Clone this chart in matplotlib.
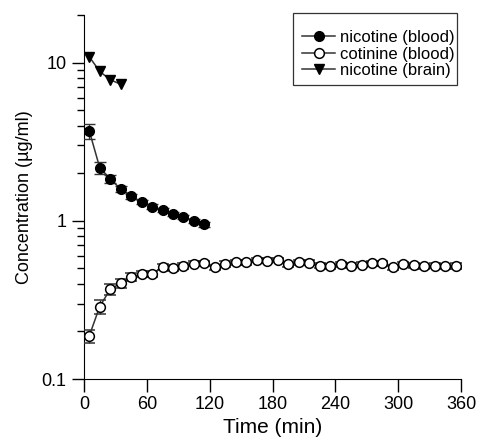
import numpy as np
import matplotlib
matplotlib.use('Agg')
import matplotlib.pyplot as plt
import matplotlib.patches as patches

plt.rcParams['font.family'] = ['Liberation Sans', 'DejaVu Sans']

# nicotine in blood
t_nic = [5, 15, 25, 35, 45, 55, 65, 75, 85, 95, 105, 115]
nic_blood = [3.71, 2.17, 1.84, 1.59, 1.43, 1.32, 1.23, 1.17, 1.11, 1.06, 1.0, 0.95]
nic_blood_err = [0.4, 0.18, 0.1, 0.07, 0.05, 0.04, 0.04, 0.03, 0.03, 0.03, 0.03, 0.03]

# cotinine in blood
t_cot = [5, 15, 25, 35, 45, 55, 65, 75, 85, 95, 105, 115, 125, 135, 145, 155, 165, 175,
         185, 195, 205, 215, 225, 235, 245, 255, 265, 275, 285, 295, 305, 315, 325, 335,
         345, 355]
cot_blood = [0.187, 0.287, 0.369, 0.403, 0.44, 0.462, 0.462, 0.512, 0.504, 0.519, 0.537,
             0.539, 0.508, 0.534, 0.547, 0.547, 0.566, 0.561, 0.566, 0.531, 0.547, 0.542,
             0.521, 0.516, 0.531, 0.521, 0.529, 0.539, 0.539, 0.508, 0.531, 0.524, 0.516,
             0.521, 0.516, 0.519]
cot_blood_err = [0.017, 0.03, 0.03, 0.025, 0.025, 0.02, 0.02, 0.02, 0.02, 0.02, 0.02,
                 0.02, 0.02, 0.02, 0.02, 0.02, 0.02, 0.02, 0.02, 0.02, 0.02, 0.02,
                 0.02, 0.02, 0.02, 0.02, 0.02, 0.02, 0.02, 0.02, 0.02, 0.02, 0.02,
                 0.02, 0.02, 0.02]

# nicotine in brain
t_brain = [5, 15, 25, 35]
nic_brain = [10.9, 8.8, 7.8, 7.3]

W, H = 478, 448
fig = plt.figure(figsize=(W / 100, H / 100), dpi=100)
ax = fig.add_axes([84 / W, 1 - 379 / H, 377 / W, 364 / H])

line_col = '#333333'
e1 = ax.errorbar(t_nic, nic_blood, yerr=nic_blood_err, fmt='-o', color=line_col,
                 mfc='black', mec='black', ms=7, lw=1.1, capsize=4.5, elinewidth=1,
                 zorder=3)
e2 = ax.errorbar(t_cot, cot_blood, yerr=cot_blood_err, fmt='-o', color=line_col,
                 mfc='white', mec='black', mew=1.1, ms=7, lw=1.1, capsize=4.5,
                 elinewidth=1, zorder=3)
l3, = ax.plot(t_brain, nic_brain, '-v', color=line_col, mfc='black', mec='black', ms=7,
              lw=1.1, zorder=3)

ax.set_yscale('log')
ax.set_ylim(0.1, 20)
ax.set_xlim(0, 360)
ax.set_xticks([0, 60, 120, 180, 240, 300, 360])
ax.set_yticks([0.1, 1, 10])
ax.set_yticklabels(['0.1', '1', '10'])

for s in ['top', 'right']:
    ax.spines[s].set_visible(False)
ax.tick_params(which='major', direction='out', length=9, width=1, labelsize=13)
ax.tick_params(which='minor', direction='out', length=5, width=1)
ax.tick_params(axis='y', which='minor', labelleft=False)

ax.set_xlabel('Time (min)', fontsize=15, labelpad=3)
ax.set_ylabel('Concentration (µg/ml)', fontsize=13, labelpad=6)

# legend without its own frame; box drawn separately
leg = ax.legend([e1[0], e2[0], l3],
                ['nicotine (blood)', 'cotinine (blood)', 'nicotine (brain)'],
                loc='upper right', bbox_to_anchor=(455 / W, 1 - 30 / H),
                bbox_transform=fig.transFigure, fontsize=12, frameon=False,
                handlelength=2.0, borderpad=0, labelspacing=0.1,
                handletextpad=0.3, borderaxespad=0)
box = patches.Rectangle((293 / W, 1 - 85 / H), 164 / W, 72 / H, transform=fig.transFigure,
                        fill=False, edgecolor='#333333', linewidth=0.9)
fig.add_artist(box)

fig.savefig('out.png', dpi=100)
